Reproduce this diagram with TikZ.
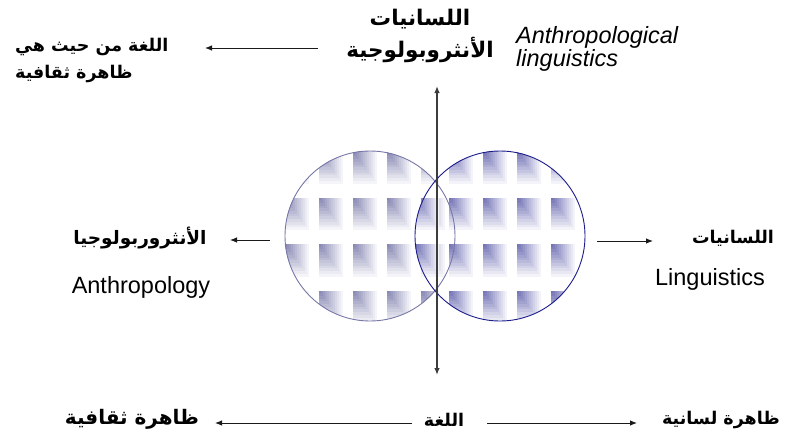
\documentclass[tikz,border=0pt]{standalone}
\usepackage{fontspec}
\setmainfont{Liberation Sans}
\newfontfamily\arabicfont[Script=Arabic]{DejaVu Sans}
\TeXXeTstate=1
\usetikzlibrary{positioning,arrows.meta,calc}
\definecolor{ink}{HTML}{1a1a1a}
\definecolor{tileleft}{HTML}{7E7EAE}
\definecolor{tileright}{HTML}{6868B0}
\definecolor{rimleft}{HTML}{7878A8}
\definecolor{rimright}{HTML}{1C1C8C}

% one circle filled with shaded tiles (centre x, centre y, colour):
% each tile is dark in its top left corner and fades to white
\newcommand{\tilefill}[3]{%
  \begin{scope}
    \clip (#1,#2) circle[radius=85pt];
    \foreach \i in {0,...,4}{
      \foreach \j in {0,...,3}{
        \pgfmathsetmacro{\tx}{#1-85+34*\i}
        \pgfmathsetmacro{\ty}{#2-85+46.5*\j}
        \foreach \k in {12,...,1}{
          \pgfmathsetmacro{\p}{100*(1-\k/13)}
          \pgfmathsetmacro{\tw}{34*0.7*\k/12}
          \pgfmathsetmacro{\th}{46.5*0.7*\k/12}
          \fill[#3!\p!white] (\tx,\ty) rectangle ++(\tw,\th);
        }
      }
    }
  \end{scope}}

\begin{document}
\begin{tikzpicture}[x=1pt,y=-1pt,
  ar/.style={font=\arabicfont\bfseries\fontsize{17.5}{22}\selectfont,inner sep=0pt},
  en/.style={font=\fontsize{23.5}{26}\selectfont,inner sep=0pt},
  link/.style={draw=ink,line width=0.9pt,-{Latex[length=7pt,width=5.5pt]}}]
  \useasboundingbox (0,0) rectangle (787,439);

  % the two circles
  \tilefill{370}{236}{tileleft}
  \tilefill{500}{236}{tileright}
  \draw[rimleft,line width=0.9pt] (370,236) circle[radius=85pt];
  \draw[rimright,line width=0.9pt] (500,236) circle[radius=85pt];

  % vertical axis
  \coordinate (axtop) at (437,86);
  \coordinate (axbot) at (437,375);
  \draw[draw=ink!85,line width=1.3pt,{Latex[length=7pt,width=5.5pt]}-{Latex[length=7pt,width=5.5pt]}] (axbot) -- (axtop);

  % top
  \node[ar,font=\arabicfont\bfseries\fontsize{21.5}{32}\selectfont,align=center] (title) at (420,36)
    {\beginR اللسانيات\endR\\\beginR الأنثروبولوجية\endR};
  \node[en,font=\itshape\fontsize{23.5}{21}\selectfont,align=left,anchor=base west] (antling) at (516,66)
    {Anthropological\\linguistics};
  \node[ar,align=left,anchor=west,font=\arabicfont\bfseries\fontsize{17.5}{27}\selectfont] (culture) at (15,60)
    {\beginR اللغة من حيث هي\endR\\\beginR ظاهرة ثقافية\endR};
  \coordinate (tls) at (318,48);
  \coordinate (tle) at (205,48);
  \draw[link] (tls) -- (tle);

  % left
  \node[ar,font=\arabicfont\bfseries\fontsize{18.5}{22}\selectfont] (anthar) at (140,238) {\beginR الأنثروربولوجيا\endR};
  \node[en,anchor=base] (anthen) at (141,293) {Anthropology};
  \coordinate (lls) at (270,240);
  \coordinate (lle) at (230,240);
  \draw[link] (lls) -- (lle);

  % right
  \node[ar] (lingar) at (733,238) {\beginR اللسانيات\endR};
  \node[en,anchor=base] (lingen) at (710,285) {Linguistics};
  \coordinate (rls) at (597,241);
  \coordinate (rle) at (653,241);
  \draw[link] (rls) -- (rle);

  % bottom
  \node[ar,font=\arabicfont\bfseries\fontsize{20}{24}\selectfont] (thaq) at (132,419) {\beginR ظاهرة ثقافية\endR};
  \node[ar] (lugha) at (444,420) {\beginR اللغة\endR};
  \node[ar] (lisan) at (721,420) {\beginR ظاهرة لسانية\endR};
  \coordinate (bls) at (412,423);
  \coordinate (ble) at (215,423);
  \coordinate (brs) at (487,423);
  \coordinate (bre) at (637,423);
  \draw[link] (bls) -- (ble);
  \draw[link] (brs) -- (bre);
\end{tikzpicture}
\end{document}
